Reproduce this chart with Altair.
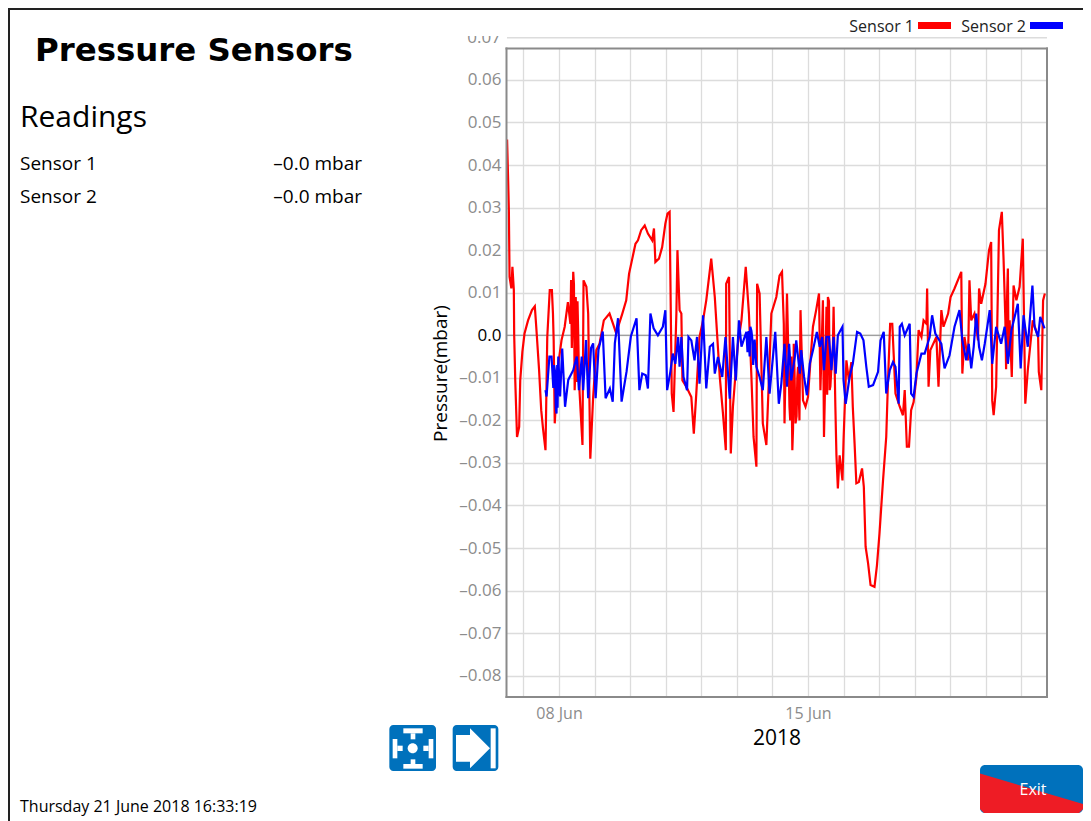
import altair as alt
import pandas as pd

FONT = "Open Sans"
HEAVY = "DejaVu Sans"

# ---- chart data: day of June 2018 (fractional) and pressure in mbar
sensor1_day = [6.54,6.57,6.59,6.61,6.66,6.69,6.73,6.74,6.77,6.82,6.88,6.91,6.97,7.03,7.13,7.24,7.32,7.36,7.44,7.50,7.55,7.62,7.67,7.74,7.80,7.83,7.85,7.88,7.97,8.07,8.16,8.25,8.32,8.37,8.40,8.44,8.49,8.54,8.58,8.66,8.69,8.77,8.82,8.88,8.96,9.05,9.14,9.26,9.42,9.52,9.61,9.69,9.78,9.89,9.97,10.05,10.15,10.22,10.31,10.41,10.50,10.62,10.67,10.71,10.81,10.90,10.99,11.05,11.11,11.13,11.17,11.22,11.30,11.33,11.39,11.44,11.47,11.58,11.72,11.79,11.86,11.95,12.05,12.14,12.28,12.38,12.52,12.61,12.69,12.70,12.78,12.83,12.89,13.03,13.13,13.25,13.34,13.41,13.47,13.55,13.57,13.64,13.73,13.83,13.90,13.97,14.11,14.20,14.27,14.32,14.34,14.41,14.48,14.56,14.60,14.65,14.72,14.79,14.86,14.93,15.00,15.07,15.14,15.23,15.31,15.35,15.42,15.45,15.52,15.56,15.61,15.67,15.72,15.77,15.80,15.84,15.89,15.97,16.00,16.08,16.15,16.22,16.26,16.31,16.36,16.43,16.52,16.57,16.62,16.69,16.76,16.87,16.94,17.01,17.11,17.20,17.25,17.31,17.37,17.46,17.58,17.67,17.72,17.78,17.84,17.90,17.97,18.05,18.11,18.19,18.25,18.33,18.35,18.39,18.44,18.61,18.67,18.75,18.81,18.94,19.01,19.12,19.31,19.34,19.40,19.50,19.54,19.59,19.68,19.78,19.81,19.87,19.99,20.09,20.15,20.18,20.22,20.29,20.37,20.45,20.50,20.55,20.62,20.67,20.73,20.78,20.86,20.95,21.04,21.11,21.18,21.32,21.47,21.49,21.56,21.61,21.66]
sensor1_mbar = [46.0,36.4,29.4,13.7,11.0,16.1,10.6,0.0,-10.6,-23.9,-21.5,-10.6,-3.9,0.4,3.5,5.9,6.8,2.0,-8.2,-17.6,-21.9,-27.0,-0.4,10.6,10.6,5.1,-1.2,-20.7,-7.4,-1.2,2.0,7.8,2.7,0.4,14.9,-12.9,2.7,0.4,-13.7,-25.8,12.9,11.4,5.1,-29.0,-14.5,-3.5,-2.0,3.5,5.1,2.7,0.4,2.7,5.1,8.2,14.5,17.6,21.5,22.3,24.7,25.8,23.9,22.3,25.1,17.2,18.0,20.7,26.2,28.6,29.0,14.5,-13.7,-18.0,5.1,20.0,5.9,5.1,-10.6,-12.1,-14.5,-23.1,-13.7,-0.4,3.5,8.2,18.0,9.0,-9.8,-18.4,-27.0,12.1,13.7,-27.8,-16.8,-2.0,3.5,16.1,5.1,-9.8,-23.9,-30.9,12.1,9.8,-20.7,-25.8,-10.6,5.1,9.0,14.0,14.9,2.7,-20.7,9.8,-16.8,-27.0,-2.0,-20.7,-7.4,5.9,-15.3,-16.8,-14.5,-5.9,2.0,5.9,9.8,-12.9,8.2,-23.9,6.7,9.0,-12.9,-5.9,6.7,-16.8,-28.2,-36.0,-28.2,-34.1,-24.7,-5.9,-10.6,-6.3,-16.8,-25.4,-34.8,-34.5,-31.3,-35.6,-49.7,-53.6,-58.7,-59.1,-54.0,-46.6,-34.1,-23.9,-10.6,2.7,2.7,-13.7,-16.8,-18.8,-12.9,-26.2,-26.2,-17.6,-15.7,-9.8,1.2,-0.4,3.5,2.7,11.0,-12.1,-3.5,-0.4,-12.1,5.9,2.0,5.1,9.0,11.0,14.9,-9.0,-0.4,-5.9,12.9,3.5,5.1,-1.2,11.0,7.4,12.1,20.0,21.9,-15.3,-18.8,-12.1,24.7,29.0,17.6,3.5,15.7,3.5,-9.8,11.7,8.2,11.4,22.7,-16.1,-8.2,3.5,-0.4,-8.6,-12.9,8.2,9.8]
sensor1_dense_day = [8.34,8.36,8.42,8.46,8.47,8.51,8.52,8.56,14.45,14.50,14.53,14.58,14.62,14.68,14.70,14.76,15.48,15.54,15.59,15.63,15.70,20.57,20.60,20.64]
sensor1_dense_mbar = [13.0,-3.0,12.0,-8.0,9.0,-11.0,8.0,-9.0,-5.0,-20.0,-5.0,-22.0,-8.0,-19.0,-10.0,-20.0,-12.0,-14.0,8.0,-12.0,-3.0,-8.0,10.0,-5.0]
sensor2_day = [7.62,7.65,7.73,7.79,7.84,7.89,7.93,7.98,8.03,8.09,8.17,8.26,8.40,8.50,8.56,8.64,8.68,8.76,8.82,8.90,8.96,9.03,9.11,9.23,9.31,9.43,9.51,9.57,9.66,9.76,9.90,10.02,10.18,10.26,10.34,10.44,10.50,10.57,10.66,10.78,10.92,10.99,11.04,11.13,11.20,11.27,11.35,11.39,11.44,11.50,11.60,11.64,11.72,11.81,11.88,11.95,12.05,12.14,12.24,12.33,12.38,12.47,12.59,12.68,12.80,12.89,12.97,13.06,13.13,13.22,13.27,13.38,13.43,13.55,13.64,13.73,13.83,13.92,14.08,14.18,14.25,14.34,14.41,14.47,14.53,14.63,14.67,14.77,14.81,14.89,14.97,15.05,15.14,15.25,15.33,15.40,15.45,15.52,15.59,15.66,15.72,15.78,15.84,15.97,16.00,16.06,16.17,16.26,16.38,16.47,16.56,16.64,16.71,16.83,16.97,17.04,17.13,17.20,17.30,17.39,17.46,17.55,17.58,17.64,17.72,17.86,17.90,17.97,18.05,18.19,18.28,18.42,18.49,18.58,18.75,18.84,18.98,19.12,19.26,19.34,19.45,19.52,19.59,19.66,19.73,19.81,19.89,19.97,20.11,20.18,20.29,20.43,20.53,20.62,20.72,20.90,20.98,21.06,21.18,21.31,21.37,21.47,21.53,21.65]
sensor2_mbar = [-12.9,-14.4,-5.0,-5.0,-12.4,-8.6,-18.4,-5.0,-14.4,-3.1,-16.8,-10.5,-8.2,-5.0,-12.9,-5.0,-12.9,-1.1,-14.8,-3.0,-1.9,-14.8,-3.4,0.9,-14.8,-12.5,-15.6,-1.9,4.0,-15.6,-8.5,-0.3,4.0,-12.9,-9.0,-9.4,-12.5,5.1,1.6,0.0,2.0,5.9,-12.9,-8.6,-4.3,-6.7,-0.4,-7.4,-0.4,-9.8,-12.9,-0.4,-1.2,-5.9,-0.4,-11.4,4.7,-12.5,-2.7,-2.0,-9.0,-5.1,-9.8,-0.4,-14.9,-0.4,-10.6,3.5,-2.7,-0.4,0.8,2.0,-0.4,-7.4,-9.8,-12.9,-0.4,-13.7,0.8,-16.1,-11.4,-2.0,-12.1,-2.0,-10.6,-5.1,-1.2,-9.0,-3.5,-9.8,-14.1,-6.7,-3.5,0.8,-2.7,-0.4,-8.2,-0.4,-0.4,-8.2,-0.4,-9.0,0.0,2.0,-10.6,-16.1,-9.8,-6.7,0.8,0.4,-1.2,-7.4,-12.1,-11.7,-8.6,-1.2,0.8,-13.7,-8.2,-6.3,-7.4,-16.1,2.0,2.7,0.0,2.7,-13.7,-14.5,-9.0,-4.3,-4.3,-0.4,4.7,0.4,-2.0,-7.8,-4.7,2.0,5.9,-1.2,-5.9,-2.0,-7.8,-2.7,5.1,-2.7,-5.9,-2.0,5.9,-6.7,2.0,-2.0,2.0,-6.7,1.2,7.4,-7.8,4.7,-2.7,11.7,2.0,-0.4,4.3,1.6]
sensor2_dense_day = [7.86,7.91,7.95,7.96,13.30,13.33,13.36,13.41,13.46,13.50]
sensor2_dense_mbar = [-7.0,-17.0,-7.0,-17.0,-4.0,1.0,-5.0,1.0,-7.0,-1.0]
y_ticks = [-0.08,-0.07,-0.06,-0.05,-0.04,-0.03,-0.02,-0.01,0.0,0.01,0.02,0.03,0.04,0.05,0.06]

title_text = "Pressure Sensors"
subtitle_text = "Readings"
row_labels = ["Sensor 1", "Sensor 2"]
row_values = ["–0.0 mbar", "–0.0 mbar"]
timestamp_text = "Thursday 21 June 2018 16:33:19"
exit_text = "Exit"

def series(days, mbar):
    t = pd.Timestamp("2018-06-01") + pd.to_timedelta([d - 1 for d in days], unit="D")
    return pd.DataFrame({"t": t, "v": [m / 1000 for m in mbar]}).sort_values("t")

red_df = series(sensor1_day + sensor1_dense_day, sensor1_mbar + sensor1_dense_mbar)
blue_df = series(sensor2_day + sensor2_dense_day, sensor2_mbar + sensor2_dense_mbar)

OX, OY = 506, 48   # page position of the plot area
PW, PH = 541, 649
one = pd.DataFrame({"a": [0]})
GRAY = "#8c8c8c"
GRID = "#dcdcdc"
FRAME = "#8a8a8a"
BLUE = "#0071bc"
RED = "#ee1c25"

def text(s, x, y, size, align="left", color="black", weight="normal", font=FONT):
    return alt.Chart(one).mark_text(font=font, fontSize=size, align=align, color=color,
                                    fontWeight=weight, baseline="alphabetic").encode(
        x=alt.value(x - OX), y=alt.value(y - OY), text=alt.value(s))

def box(x0, y0, x1, y1, color, radius=0):
    kw = {"cornerRadius": radius} if radius else {}
    return alt.Chart(one).mark_rect(color=color, **kw).encode(
        x=alt.value(x0 - OX), x2=alt.value(x1 - OX), y=alt.value(y0 - OY), y2=alt.value(y1 - OY))

def poly(pts, color):
    d = "M" + " L".join(f"{x - OX},{y - OY}" for x, y in pts) + " Z"
    return alt.Chart(one).mark_point(shape=d, size=4, filled=True, fill=color, stroke=color,
                                     strokeWidth=0, opacity=1).encode(
        x=alt.value(0), y=alt.value(0))

x_enc = alt.X("t:T", title="2018",
    scale=alt.Scale(domain=[pd.Timestamp("2018-06-06 12:14").isoformat(),
                            pd.Timestamp("2018-06-21 17:17").isoformat()]),
    axis=alt.Axis(tickCount={"interval": "day", "step": 1}, ticks=False, domain=False,
                  gridColor=GRID, gridWidth=1.3, labelOverlap=False, labelFlush=False,
                  labelExpr="(date(datum.value)==8||date(datum.value)==15)?timeFormat(datum.value,'%d %b'):''",
                  labelColor=GRAY, labelFont=FONT, labelFontSize=16, labelPadding=8,
                  titleFont=FONT, titleFontSize=21, titleFontWeight="normal", titleColor="black",
                  titlePadding=6))
y_enc = alt.Y("v:Q", title="Pressure(mbar)",
    scale=alt.Scale(domain=[-0.085, 0.0675], nice=False, zero=False),
    axis=alt.Axis(values=y_ticks, ticks=False, domain=False, gridColor=GRID, gridWidth=1.3,
                  labelOverlap=False, labelFlush=False,
                  labelExpr="datum.value==0?'0.0':(datum.value<0?'–':'')+format(abs(datum.value),'.2f')",
                  labelColor={"condition": {"test": "datum.value==0", "value": "black"}, "value": GRAY},
                  labelFont=FONT, labelFontSize=17, labelPadding=5,
                  titleFont=FONT, titleFontSize=19, titleFontWeight="normal", titleColor="black",
                  titleX=-56, titleY=325))

red = alt.Chart(red_df).mark_line(color="#ff0000", strokeWidth=2.2, clip=True).encode(x=x_enc, y=y_enc)
blue = alt.Chart(blue_df).mark_line(color="#0000ff", strokeWidth=2.2, clip=True).encode(x="t:T", y="v:Q")
zero = alt.Chart(pd.DataFrame({"v": [0.0]})).mark_rule(color=FRAME, strokeWidth=1).encode(y="v:Q")

# 0.07 gridline and its clipped label, above the frame
top_grid = box(507, 37, 1047, 38.5, GRID)
top_label = text("0.07", 501, 43, 17, align="right", color=GRAY)
top_mask = box(460, 24, 505, 36, "white")

layers = [zero, red, blue, top_grid, top_label, top_mask]

# plot frame
layers += [box(505.5, 47.5, 1048, 49.5, FRAME), box(505.5, 696, 1048, 698, FRAME),
           box(505.5, 47.5, 507.5, 698, FRAME), box(1046, 47.5, 1048, 698, FRAME)]

# page frame
layers += [box(8, 8, 1083, 10, "#222222"), box(8, 8, 10, 821, "#222222")]

# left text
layers += [text(title_text, 35, 61, 32.4, weight="bold", font=HEAVY),
           text(subtitle_text, 20, 127, 30)]
for lab, val, yy in zip(row_labels, row_values, [170, 203]):
    layers += [text(lab, 20, yy, 19), text(val, 362, yy, 19, align="right")]
layers += [text(timestamp_text, 20, 812, 16)]

# legend
layers += [text("Sensor 1", 914, 32, 16, align="right", color="#222222"),
           box(918, 22, 951, 29, "#ff0000"),
           text("Sensor 2", 1026, 32, 16, align="right", color="#222222"),
           box(1030, 22, 1063, 29, "#0000ff")]

# left icon
def ix(v): return 380 + v / 3
def iy(v): return 690 + v / 3
layers += [box(ix(28), iy(105), ix(168), iy(243), BLUE, 4)]
for a, b, c, d in [(70,115,128,130),(92,130,106,148),(92,208,106,222),(70,222,128,236),
                   (38,147,52,205),(52,167,68,183),(146,147,160,205),(130,167,146,183)]:
    layers.append(box(ix(a), iy(b), ix(c), iy(d), "white"))
layers.append(box(ix(83), iy(160), ix(113), iy(190), "white", 5))
# right icon
layers += [box(ix(218), iy(105), ix(355), iy(243), BLUE, 4),
           poly([(ix(228),iy(135)),(ix(270),iy(135)),(ix(270),iy(115)),(ix(330),iy(175)),
                 (ix(270),iy(235)),(ix(270),iy(215)),(ix(228),iy(215))], "white"),
           box(ix(332), iy(115), ix(347), iy(235), "white")]
# exit button
layers += [box(980, 765, 1083, 813, BLUE, 5),
           poly([(980,773.5),(1083,804),(1083,809),(1079,813),(984,813),(980,809)], RED),
           text(exit_text, 1033, 795, 16, align="center", color="white")]

chart = alt.layer(*layers).properties(
    width=PW, height=PH,
    padding={"left": OX - 8, "top": OY - 8, "right": 1075 - (OX - 8) - PW, "bottom": 813 - (OY - 8) - PH},
    autosize=alt.AutoSizeParams(type="none"),
).configure_view(strokeWidth=0).configure(background="white")

chart.save("out.html", embed_options={"renderer": "svg", "actions": False})
